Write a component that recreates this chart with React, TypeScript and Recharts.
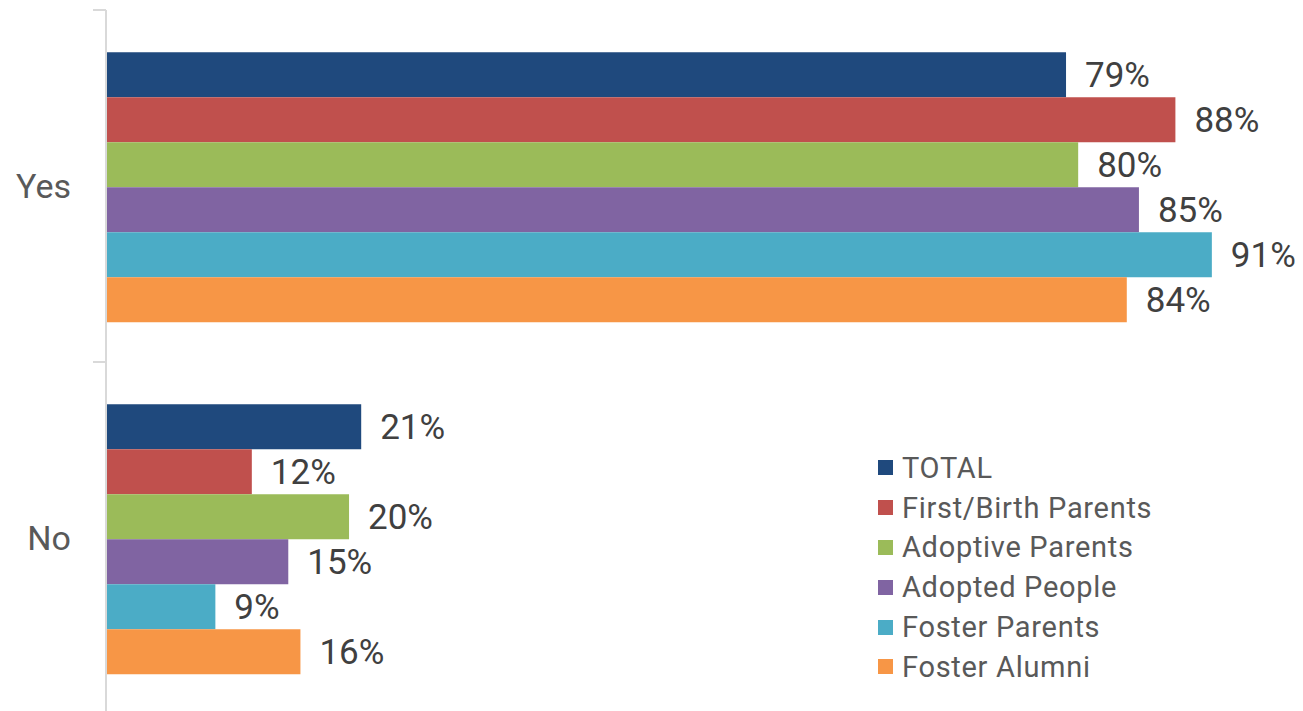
import React from 'react';
import { BarChart, Bar, XAxis, YAxis, Legend, LabelList } from 'recharts';

const categories = ['Yes', 'No'];

const seriesNames = [
  'TOTAL',
  'First/Birth Parents',
  'Adoptive Parents',
  'Adopted People',
  'Foster Parents',
  'Foster Alumni',
];
const seriesKeys = ['total', 'firstBirth', 'adoptive', 'adopted', 'foster', 'alumni'];
const seriesColors = ['#1F497D', '#C0504D', '#9BBB59', '#8064A2', '#4BACC6', '#F79646'];

const totalValues = [79, 21];
const firstBirthValues = [88, 12];
const adoptiveValues = [80, 20];
const adoptedValues = [85, 15];
const fosterValues = [91, 9];
const alumniValues = [84, 16];

const seriesValues = [
  totalValues,
  firstBirthValues,
  adoptiveValues,
  adoptedValues,
  fosterValues,
  alumniValues,
];

const data = categories.map((answer, i) => {
  const row: Record<string, string | number> = { answer };
  seriesKeys.forEach((k, s) => {
    row[k] = seriesValues[s][i];
  });
  return row;
});

const FONT = 'Roboto, "DejaVu Sans", sans-serif';
const WIDTH = 1303;
const HEIGHT = 714;
const TOP = 10;
const AXIS_W = 106;
const HALF_BAND = (HEIGHT - TOP) / categories.length / 2;

function CategoryTick(props: any) {
  const { y, payload } = props;
  return (
    <g>
      <text
        x={71}
        y={y}
        textAnchor="end"
        dominantBaseline="central"
        fill="#595959"
        fontSize={34}
        fontFamily={FONT}
      >
        {payload.value}
      </text>
      <line x1={93} x2={AXIS_W} y1={y - HALF_BAND} y2={y - HALF_BAND} stroke="#d9d9d9" strokeWidth={2} />
      <line x1={93} x2={AXIS_W} y1={y + HALF_BAND} y2={y + HALF_BAND} stroke="#d9d9d9" strokeWidth={2} />
    </g>
  );
}

function LegendBox() {
  return (
    <div style={{ fontFamily: FONT, fontSize: 29, color: '#595959', letterSpacing: 0.7 }}>
      {seriesNames.map((name, i) => (
        <div key={name} style={{ display: 'flex', alignItems: 'center', height: 39.8, whiteSpace: 'nowrap' }}>
          <span
            style={{
              display: 'inline-block',
              width: 15,
              height: 15,
              background: seriesColors[i],
              marginRight: 9,
            }}
          />
          <span>{name}</span>
        </div>
      ))}
    </div>
  );
}

export default function App() {
  return (
    <div
      style={{
        position: 'absolute',
        left: 0,
        top: 0,
        width: WIDTH,
        height: 711,
        overflow: 'hidden',
        background: '#fff',
        fontFamily: FONT,
      }}
    >
      <BarChart
        width={WIDTH}
        height={HEIGHT}
        data={data}
        layout="vertical"
        margin={{ top: TOP, right: 0, left: 0, bottom: 0 }}
        barCategoryGap="12%"
        barGap={0}
      >
        <XAxis type="number" domain={[0, 98.5]} hide />
        <YAxis
          type="category"
          dataKey="answer"
          width={AXIS_W}
          axisLine={{ stroke: '#d9d9d9', strokeWidth: 2 }}
          tickLine={false}
          tick={<CategoryTick />}
        />
        <Legend
          layout="vertical"
          align="center"
          verticalAlign="middle"
          content={() => <LegendBox />}
          wrapperStyle={{ left: 878, top: 448, width: 'auto' }}
        />
        {seriesKeys.map((k, i) => (
          <Bar key={k} dataKey={k} name={seriesNames[i]} fill={seriesColors[i]} isAnimationActive={false}>
            <LabelList
              dataKey={k}
              position="right"
              offset={19}
              formatter={(v: any) => `${v}%`}
              fill="#404040"
              fontSize={35}
              fontFamily={FONT}
            />
          </Bar>
        ))}
      </BarChart>
    </div>
  );
}
